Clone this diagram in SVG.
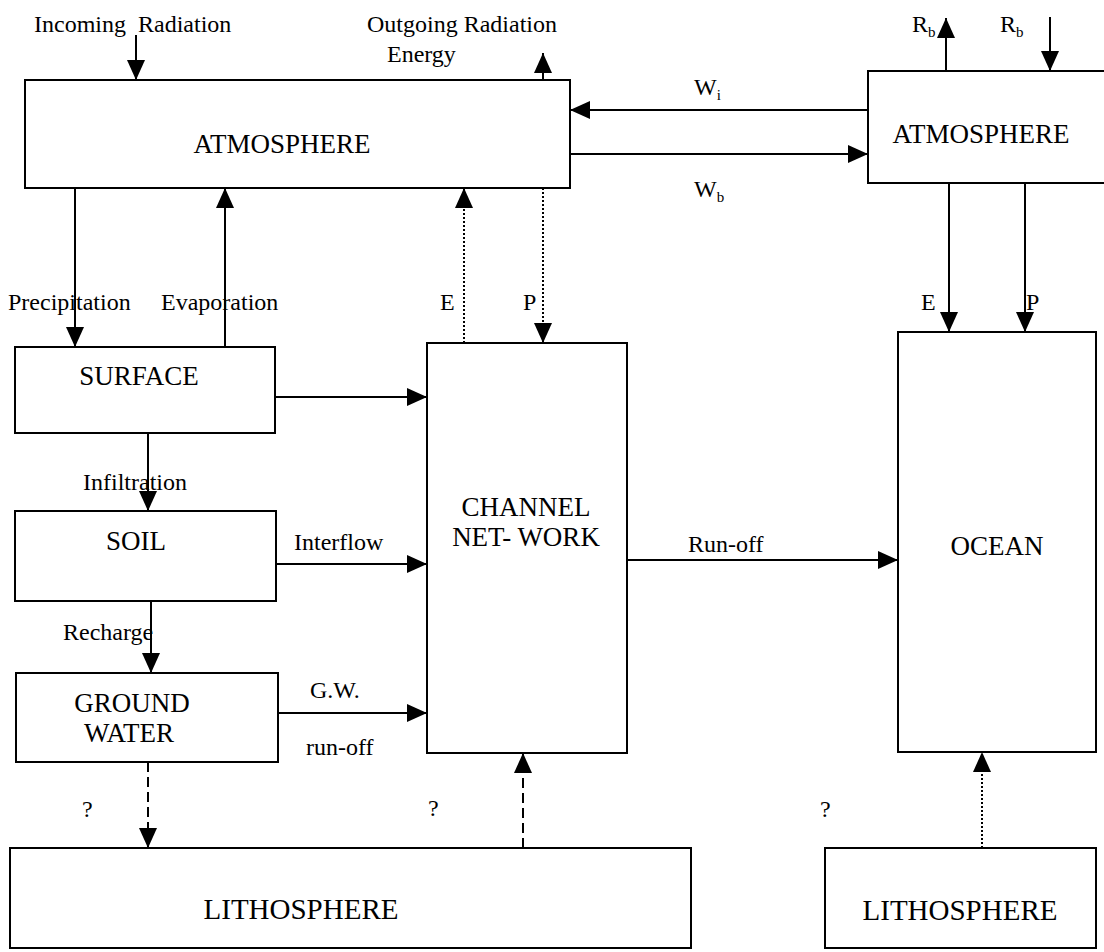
<svg xmlns="http://www.w3.org/2000/svg" width="1104" height="952" viewBox="0 0 1104 952">
<defs>
<marker id="ah" markerUnits="userSpaceOnUse" markerWidth="20" markerHeight="18" refX="20" refY="9" orient="auto">
<path d="M0,0 L20,9 L0,18 z" fill="#000"/>
</marker>
<style>
.box{fill:#fff;stroke:#000;stroke-width:2}
.big{font-family:"Liberation Serif","Times New Roman",serif;font-size:27px;fill:#000}
.litho{font-family:"Liberation Serif","Times New Roman",serif;font-size:29px;fill:#000}
.lbl{font-family:"Liberation Serif","Times New Roman",serif;font-size:24px;fill:#000}
.sub{font-size:15px}
.c{stroke:#000;stroke-width:2;fill:none;marker-end:url(#ah)}
.dot{stroke-dasharray:2 2}
.dash{stroke-dasharray:10 5}
</style>
</defs>
<rect width="1104" height="952" fill="#fff"/>

<g id="connectors">
<line class="c" x1="136" y1="35" x2="136" y2="80"/>
<line class="c" x1="543" y1="80" x2="543" y2="53"/>
<line class="c" x1="868" y1="110" x2="570" y2="110"/>
<line class="c" x1="570" y1="154" x2="868" y2="154"/>
<line class="c" x1="946" y1="71" x2="946" y2="18"/>
<line class="c" x1="1050" y1="17" x2="1050" y2="71"/>
<line class="c" x1="949" y1="183" x2="949" y2="332"/>
<line class="c" x1="1025" y1="183" x2="1025" y2="332"/>
<line class="c" x1="75" y1="188" x2="75" y2="347"/>
<line class="c" x1="225" y1="347" x2="225" y2="188"/>
<line class="c dot" x1="464" y1="343" x2="464" y2="188"/>
<line class="c dot" x1="543" y1="188" x2="543" y2="343"/>
<line class="c" x1="275" y1="397" x2="427" y2="397"/>
<line class="c" x1="148" y1="433" x2="148" y2="511"/>
<line class="c" x1="276" y1="564" x2="427" y2="564"/>
<line class="c" x1="151" y1="601" x2="151" y2="673"/>
<line class="c" x1="278" y1="713" x2="427" y2="713"/>
<line class="c" x1="627" y1="560" x2="898" y2="560"/>
<line class="c dash" x1="148" y1="762" x2="148" y2="848"/>
<line class="c dash" x1="523" y1="848" x2="523" y2="753"/>
<line class="c dot" x1="982" y1="848" x2="982" y2="752"/>
</g>

<g id="labels">
<text class="lbl" x="34" y="32" xml:space="preserve">Incoming  Radiation</text>
<text class="lbl" x="367" y="32">Outgoing Radiation</text>
<text class="lbl" x="387" y="62">Energy</text>
<text class="lbl" x="694" y="95">W<tspan class="sub" dy="5">i</tspan></text>
<text class="lbl" x="694" y="197">W<tspan class="sub" dy="5">b</tspan></text>
<text class="lbl" x="912" y="32">R<tspan class="sub" dy="5">b</tspan></text>
<text class="lbl" x="1000" y="32">R<tspan class="sub" dy="5">b</tspan></text>
<text class="lbl" x="921" y="310">E</text>
<text class="lbl" x="1026" y="310">P</text>
<text class="lbl" x="8" y="310">Precipitation</text>
<text class="lbl" x="161" y="310">Evaporation</text>
<text class="lbl" x="440" y="310">E</text>
<text class="lbl" x="523" y="310">P</text>
<text class="lbl" x="83" y="490">Infiltration</text>
<text class="lbl" x="294" y="550">Interflow</text>
<text class="lbl" x="63" y="640">Recharge</text>
<text class="lbl" x="688" y="552">Run-off</text>
<text class="lbl" x="310" y="698">G.W.</text>
<text class="lbl" x="306" y="755">run-off</text>
<text class="lbl" x="82" y="817">?</text>
<text class="lbl" x="428" y="816">?</text>
<text class="lbl" x="820" y="817">?</text>
</g>

<g id="atmosphere-left">
<rect class="box" x="25" y="80" width="545" height="108"/>
<text class="big" x="282" y="153" text-anchor="middle">ATMOSPHERE</text>
</g>
<g id="atmosphere-right">
<rect class="box" x="868" y="71" width="250" height="112"/>
<text class="big" x="981" y="143" text-anchor="middle">ATMOSPHERE</text>
</g>
<g id="surface">
<rect class="box" x="15" y="347" width="260" height="86"/>
<text class="big" x="139" y="385" text-anchor="middle">SURFACE</text>
</g>
<g id="soil">
<rect class="box" x="15" y="511" width="261" height="90"/>
<text class="big" x="136" y="550" text-anchor="middle">SOIL</text>
</g>
<g id="ground-water">
<rect class="box" x="16" y="673" width="262" height="89"/>
<text class="big" x="132" y="712" text-anchor="middle">GROUND</text>
<text class="big" x="129" y="742" text-anchor="middle">WATER</text>
</g>
<g id="channel-network">
<rect class="box" x="427" y="343" width="200" height="410"/>
<text class="big" x="526" y="516" text-anchor="middle">CHANNEL</text>
<text class="big" x="526" y="546" text-anchor="middle">NET- WORK</text>
</g>
<g id="ocean">
<rect class="box" x="898" y="332" width="198" height="420"/>
<text class="big" x="997" y="555" text-anchor="middle">OCEAN</text>
</g>
<g id="lithosphere-left">
<rect class="box" x="10" y="848" width="681" height="100"/>
<text class="litho" x="301" y="919" text-anchor="middle">LITHOSPHERE</text>
</g>
<g id="lithosphere-right">
<rect class="box" x="825" y="848" width="271" height="100"/>
<text class="litho" x="960" y="920" text-anchor="middle">LITHOSPHERE</text>
</g>
</svg>
